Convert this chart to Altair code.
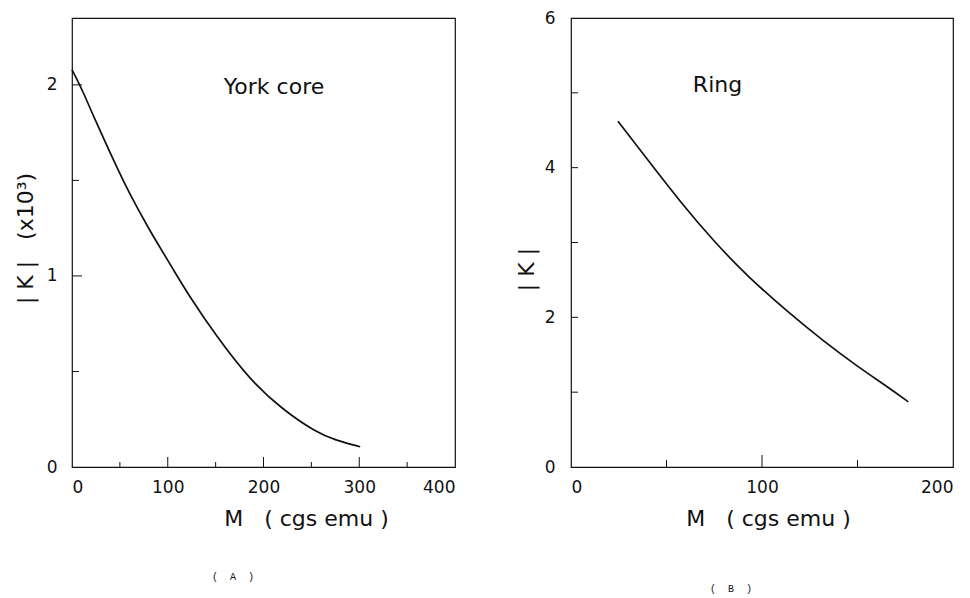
import altair as alt
import pandas as pd

# Panel A: York core
a_M = [0, 12, 22, 43, 60, 81, 93, 105, 123, 150, 185, 220, 254, 275, 301]
a_K = [2.08, 1.96, 1.84, 1.61, 1.43, 1.24, 1.14, 1.04, 0.89, 0.69, 0.46, 0.30, 0.185, 0.14, 0.106]
# Panel B: Ring
b_M = [24.6, 40.3, 57.6, 75, 92.3, 114, 132.3, 149.6, 167, 176.6]
b_K = [4.62, 4.10, 3.53, 3.01, 2.55, 2.06, 1.68, 1.35, 1.05, 0.87]

a_xlabels = [0, 100, 200, 300, 400]
a_xmajor = [100, 200, 300]
a_xminor = [50, 150, 250, 350]
a_ylabels = [0, 1, 2]
a_ymajor = [1, 2]
a_yminor = [0.5, 1.5]

b_xlabels = [0, 100, 200]
b_xmajor = [100]
b_xminor = [50, 150]
b_ylabels = [0, 2, 4, 6]
b_ymajor = [2, 4]
b_yminor = [1, 3, 5]

FONT = "DejaVu Sans"
INK = "#111111"
NB = "\u00a0"


def panel(M, K, xdom, ydom, xlabels, xmajor, xminor, ylabels, ymajor, yminor,
          W, H, ytitle, ytx, yty, xtx, note, note_M, note_K, caption, cap_x, cap_y,
          ylabpad, xtick_major, xtick_minor, ytick_major, ytick_minor):
    xs = alt.Scale(domain=xdom, nice=False, zero=False)
    ys = alt.Scale(domain=ydom, nice=False, zero=False)
    df = pd.DataFrame({"M": M, "K": K})
    line = alt.Chart(df).mark_line(color=INK, strokeWidth=1.7, interpolate="basis").encode(
        x=alt.X("M:Q", scale=xs, axis=alt.Axis(
            values=xlabels, format="d", labelPadding=12,
            title=f"M{NB}{NB}{NB}({NB}cgs{NB}emu{NB})",
            titleX=xtx, titleY=58, titleBaseline="alphabetic")),
        y=alt.Y("K:Q", scale=ys, axis=alt.Axis(
            values=ylabels, format="d", labelPadding=ylabpad, title=ytitle,
            titleX=ytx, titleY=yty, titleBaseline="middle", titleAngle=270)),
    )
    xt_major = alt.Chart(pd.DataFrame({"v": xmajor})).mark_rule(color=INK, strokeWidth=1).encode(
        x=alt.X("v:Q", scale=xs, axis=None), y=alt.value(H), y2=alt.value(H - xtick_major))
    xt_minor = alt.Chart(pd.DataFrame({"v": xminor})).mark_rule(color=INK, strokeWidth=1).encode(
        x=alt.X("v:Q", scale=xs, axis=None), y=alt.value(H), y2=alt.value(H - xtick_minor))
    yt_major = alt.Chart(pd.DataFrame({"v": ymajor})).mark_rule(color=INK, strokeWidth=1).encode(
        y=alt.Y("v:Q", scale=ys, axis=None), x=alt.value(0), x2=alt.value(ytick_major))
    yt_minor = alt.Chart(pd.DataFrame({"v": yminor})).mark_rule(color=INK, strokeWidth=1).encode(
        y=alt.Y("v:Q", scale=ys, axis=None), x=alt.value(0), x2=alt.value(ytick_minor))
    label = alt.Chart(pd.DataFrame({"M": [note_M], "K": [note_K], "t": [note]})).mark_text(
        font=FONT, fontSize=22, color=INK, align="center", baseline="middle").encode(
        x=alt.X("M:Q", scale=xs, axis=None), y=alt.Y("K:Q", scale=ys, axis=None), text="t:N")
    cap = alt.Chart(pd.DataFrame({"t": [caption]})).mark_text(
        font="Liberation Mono", fontSize=10, color=INK, align="center", baseline="middle").encode(
        x=alt.value(cap_x), y=alt.value(cap_y), text="t:N")
    return alt.layer(line, xt_major, xt_minor, yt_major, yt_minor, label, cap).resolve_axis(
        x="independent", y="independent").properties(width=W, height=H)


H = 449
left = panel(a_M, a_K, [0, 400], [0, 2.35], a_xlabels, a_xmajor, a_xminor,
             a_ylabels, a_ymajor, a_yminor, 383, H, f"|{NB}K{NB}|{NB}{NB}{NB}(x10³)", -47, 220, 234,
             "York core", 211, 1.99, f"({NB}{NB}A{NB}{NB})", 161, 559, 15, 10, 5, 10, 7)
right = panel(b_M, b_K, [0, 200], [0, 6], b_xlabels, b_xmajor, b_xminor,
              b_ylabels, b_ymajor, b_yminor, 382, H, f"|{NB}K{NB}|", -45, 251, 197,
              "Ring", 76.7, 5.1, f"({NB}{NB}B{NB}{NB})", 160, 571, 16, 12, 7, 7, 7)

chart = alt.hconcat(left, right, spacing=116, bounds="flush").properties(
    padding={"left": 5, "right": 0, "top": 0, "bottom": 0}, background="white"
).configure_view(stroke=INK, strokeWidth=1.2).configure_axis(
    ticks=False, domain=False, grid=False,
    labelFont=FONT, labelFontSize=17, labelColor=INK,
    titleFont=FONT, titleFontSize=22, titleFontWeight="normal", titleColor=INK,
)

chart.save("out.html", embed_options={"renderer": "svg", "actions": False})
